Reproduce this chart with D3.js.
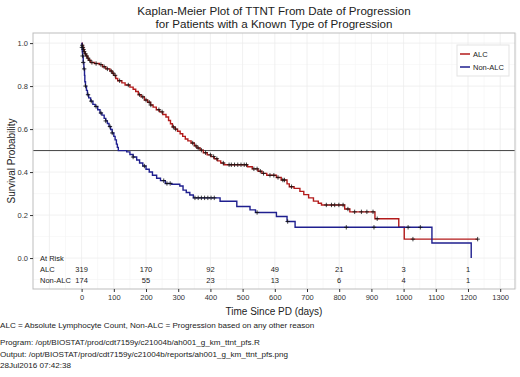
<!DOCTYPE html>
<html>
<head>
<meta charset="utf-8">
<script src="https://cdn.jsdelivr.net/npm/d3@7"></script>
<style>
  body { margin: 0; background: #fff; }
  svg text { font-family: 'Liberation Sans', Arial, sans-serif; }
</style>
</head>
<body>
<div id="chart"></div>
<script>
// KM steps: [time, survival after step]
let alcSteps = [
  [0, 1.0], [2, 0.99], [4, 0.98], [6, 0.97], [8, 0.96], [10, 0.95], [14, 0.94], [18, 0.93], [22, 0.92],
  [28, 0.91], [40, 0.905], [55, 0.9], [65, 0.89], [75, 0.88], [88, 0.87], [95, 0.86], [100, 0.85],
  [106, 0.835], [112, 0.825], [125, 0.815], [135, 0.805], [150, 0.795], [160, 0.785], [168, 0.775],
  [176, 0.76], [185, 0.75], [195, 0.735], [205, 0.725], [214, 0.712], [222, 0.702], [232, 0.69],
  [242, 0.68], [252, 0.668], [262, 0.656], [270, 0.64], [276, 0.625], [282, 0.61], [290, 0.6],
  [298, 0.59], [306, 0.578], [314, 0.566], [322, 0.554], [330, 0.545], [340, 0.535], [350, 0.522],
  [358, 0.512], [368, 0.502], [378, 0.49], [390, 0.48], [402, 0.472], [412, 0.462], [422, 0.452],
  [432, 0.442], [442, 0.434], [515, 0.425], [530, 0.415], [548, 0.404], [560, 0.394], [575, 0.385],
  [605, 0.375], [620, 0.363], [638, 0.345], [645, 0.332], [660, 0.324], [678, 0.31], [690, 0.295],
  [705, 0.28], [720, 0.265], [735, 0.255], [745, 0.247], [817, 0.228], [833, 0.215], [911, 0.183],
  [985, 0.143], [1002, 0.088]
]
let alcEnd = 1230
let alcCensor = [2, 4, 6, 8, 12, 16, 20, 25, 32, 45, 60, 70, 80, 92, 98, 104, 118, 145, 180, 190, 200, 210,
  215, 240, 250, 285, 292, 345, 355, 362, 372, 385, 400, 410, 420, 440, 458, 465, 475, 485, 495, 505, 512,
  535, 545, 555, 565, 585, 597, 610, 625, 630, 652, 760, 776, 786, 799, 812, 827, 848, 869, 886, 905,
  918, 1029, 1230]

let nonSteps = [
  [0, 1.0], [1, 0.98], [2, 0.96], [3, 0.94], [5, 0.91], [7, 0.88], [9, 0.85], [10, 0.82], [12, 0.8],
  [15, 0.78], [18, 0.76], [22, 0.745], [28, 0.73], [35, 0.715], [42, 0.705], [50, 0.69], [57, 0.675],
  [63, 0.665], [70, 0.65], [75, 0.638], [80, 0.626], [85, 0.612], [90, 0.598], [95, 0.582], [100, 0.566],
  [104, 0.55], [108, 0.53], [111, 0.515], [114, 0.5], [140, 0.494], [150, 0.482], [160, 0.47],
  [171, 0.456], [180, 0.442], [190, 0.428], [200, 0.413], [210, 0.4], [220, 0.385], [233, 0.371],
  [245, 0.36], [260, 0.347], [280, 0.343], [305, 0.335], [315, 0.316], [325, 0.305], [336, 0.293],
  [347, 0.28], [430, 0.264], [482, 0.24], [523, 0.224], [540, 0.212], [605, 0.193], [638, 0.17],
  [663, 0.143], [1088, 0.07], [1210, 0.0]
]
let nonEnd = 1210
let nonCensor = [1, 3, 5, 8, 12, 20, 30, 45, 60, 75, 88, 95, 160, 195, 255, 265, 275, 352, 362, 372, 382,
  392, 402, 412, 545, 640, 822, 908, 1014, 1052]

let riskTimes = [0, 200, 400, 600, 800, 1000, 1200]
let riskAlc = [319, 170, 92, 49, 21, 3, 1]
let riskNon = [174, 55, 23, 13, 6, 4, 1]

let xTicks = [0, 100, 200, 300, 400, 500, 600, 700, 800, 900, 1000, 1100, 1200, 1300]
let yTicks = [0, 0.2, 0.4, 0.6, 0.8, 1.0]

let w = 520, h = 377
let margin = { top: 33, left: 33, right: 5, bottom: 88 }
let pw = w - margin.left - margin.right,
  ph = h - margin.top - margin.bottom
let red = '#b31b1b', blue = '#1f1f8f'

let svg = d3.select('#chart').append('svg').attr('width', w).attr('height', h)

// titles
svg.append('text').text('Kaplan-Meier Plot of TTNT From Date of Progression')
  .attr('x', margin.left + pw / 2).attr('y', 15).attr('text-anchor', 'middle')
  .attr('font-size', '11.6px').style('fill', '#222')
svg.append('text').text('for Patients with a Known Type of Progression')
  .attr('x', margin.left + pw / 2).attr('y', 27.5).attr('text-anchor', 'middle')
  .attr('font-size', '11.6px').style('fill', '#222')

let g = svg.append('g').attr('transform', `translate(${margin.left}, ${margin.top})`)

let x = d3.scaleLinear().domain([-151, 1346]).range([0, pw])
let y = d3.scaleLinear().domain([-0.144, 1.047]).range([ph, 0])

// grid
g.selectAll('.vminor').data(d3.range(-100, 1350, 100).map(v => v + 50)).enter().append('line')
  .attr('x1', d => x(d)).attr('x2', d => x(d)).attr('y1', 0).attr('y2', ph)
  .attr('stroke', '#f4f4f4').attr('stroke-width', 0.6)
g.selectAll('.hminor').data([-0.1, 0.1, 0.3, 0.5, 0.7, 0.9]).enter().append('line')
  .attr('x1', 0).attr('x2', pw).attr('y1', d => y(d)).attr('y2', d => y(d))
  .attr('stroke', '#f4f4f4').attr('stroke-width', 0.6)
g.selectAll('.vgrid').data(xTicks.concat([-100])).enter().append('line')
  .attr('x1', d => x(d)).attr('x2', d => x(d)).attr('y1', 0).attr('y2', ph)
  .attr('stroke', '#ececec').attr('stroke-width', 0.8)
g.selectAll('.hgrid').data(yTicks).enter().append('line')
  .attr('x1', 0).attr('x2', pw).attr('y1', d => y(d)).attr('y2', d => y(d))
  .attr('stroke', '#ececec').attr('stroke-width', 0.8)

// reference line at 0.5
g.append('line').attr('x1', 0).attr('x2', pw).attr('y1', y(0.5)).attr('y2', y(0.5))
  .attr('stroke', '#444').attr('stroke-width', 1)

// curves
function stepPath (steps, end) {
  let pts = steps.map(d => [d[0], d[1]])
  pts.push([end, steps[steps.length - 1][1]])
  return d3.line().x(d => x(d[0])).y(d => y(d[1])).curve(d3.curveStepAfter)(pts)
}
function survAt (steps, t) {
  let s = 1
  steps.forEach(d => { if (d[0] <= t) s = d[1] })
  return s
}
g.append('path').attr('d', stepPath(alcSteps, alcEnd)).attr('fill', 'none')
  .attr('stroke', red).attr('stroke-width', 1.4)
g.append('path').attr('d', stepPath(nonSteps, nonEnd)).attr('fill', 'none')
  .attr('stroke', blue).attr('stroke-width', 1.4)

// censor marks
function appendCensor (times, steps) {
  let m = g.append('g').selectAll('g').data(times).enter().append('g')
    .attr('transform', d => `translate(${x(d)}, ${y(survAt(steps, d))})`)
  m.append('line').attr('x1', -2.2).attr('x2', 2.2).attr('stroke', '#111').attr('stroke-width', 0.8)
  m.append('line').attr('y1', -2.2).attr('y2', 2.2).attr('stroke', '#111').attr('stroke-width', 0.8)
}
appendCensor(alcCensor, alcSteps)
appendCensor(nonCensor, nonSteps)

// at risk table
g.append('text').text('At Risk').attr('x', 7).attr('y', y(0) + 3).attr('font-size', '7.5px').style('fill', '#222')
g.append('text').text('ALC').attr('x', 7).attr('y', y(0) + 14).attr('font-size', '7.5px').style('fill', '#222')
g.append('text').text('Non-ALC').attr('x', 7).attr('y', y(0) + 25).attr('font-size', '7.5px').style('fill', '#222')
g.selectAll('.riskA').data(riskTimes).enter().append('text').text((d, i) => riskAlc[i])
  .attr('x', d => x(d)).attr('y', y(0) + 14).attr('text-anchor', 'middle')
  .attr('font-size', '7.5px').style('fill', '#222')
g.selectAll('.riskN').data(riskTimes).enter().append('text').text((d, i) => riskNon[i])
  .attr('x', d => x(d)).attr('y', y(0) + 25).attr('text-anchor', 'middle')
  .attr('font-size', '7.5px').style('fill', '#222')

// panel border
g.append('rect').attr('width', pw).attr('height', ph).attr('fill', 'none').attr('stroke', '#bdbdbd').attr('stroke-width', 1)

// axes
let xAxis = d3.axisBottom(x).tickValues(xTicks).tickFormat(d3.format('d')).tickSizeOuter(0).tickSizeInner(3).tickPadding(3)
let xg = g.append('g').attr('transform', `translate(0, ${ph})`).call(xAxis)
xg.select('.domain').remove()
xg.selectAll('line').attr('stroke', '#333')
xg.selectAll('text').attr('font-size', '7.5px').style('fill', '#333').attr('font-family', null)

let yAxis = d3.axisLeft(y).tickValues(yTicks).tickFormat(d3.format('.1f')).tickSizeOuter(0).tickSizeInner(3).tickPadding(2)
let yg = g.append('g').call(yAxis)
yg.select('.domain').remove()
yg.selectAll('line').attr('stroke', '#333')
yg.selectAll('text').attr('font-size', '7.5px').style('fill', '#333').attr('font-family', null)

// axis titles
svg.append('text').text('Time Since PD (days)').attr('x', margin.left + pw / 2).attr('y', 315)
  .attr('text-anchor', 'middle').attr('font-size', '10px').style('fill', '#222')
svg.append('text').text('Survival Probability')
  .attr('transform', `translate(15, ${margin.top + ph / 2}) rotate(-90)`)
  .attr('text-anchor', 'middle').attr('font-size', '10px').style('fill', '#222')

// legend
let lg = g.append('g').attr('transform', `translate(${pw - 58}, 12)`)
lg.append('rect').attr('width', 52).attr('height', 31).attr('fill', '#fff').attr('stroke', '#e3e3e3')
let legendItems = [['ALC', red], ['Non-ALC', blue]]
legendItems.forEach((d, i) => {
  lg.append('line').attr('x1', 3).attr('x2', 13).attr('y1', 9 + i * 13).attr('y2', 9 + i * 13)
    .attr('stroke', d[1]).attr('stroke-width', 1.5)
  lg.append('text').text(d[0]).attr('x', 16).attr('y', 12 + i * 13).attr('font-size', '7.5px').style('fill', '#222')
})

// footnotes
let notes = [
  ['ALC = Absolute Lymphocyte Count, Non-ALC = Progression based on any other reason', 328],
  ['Program: /opt/BIOSTAT/prod/cdt7159y/c21004b/ah001_g_km_ttnt_pfs.R', 345],
  ['Output: /opt/BIOSTAT/prod/cdt7159y/c21004b/reports/ah001_g_km_ttnt_pfs.png', 357],
  ['28Jul2016 07:42:38', 368]
]
svg.selectAll('.note').data(notes).enter().append('text').text(d => d[0])
  .attr('x', 0).attr('y', d => d[1]).attr('font-size', '8.1px').style('fill', '#222')
</script>
</body>
</html>
